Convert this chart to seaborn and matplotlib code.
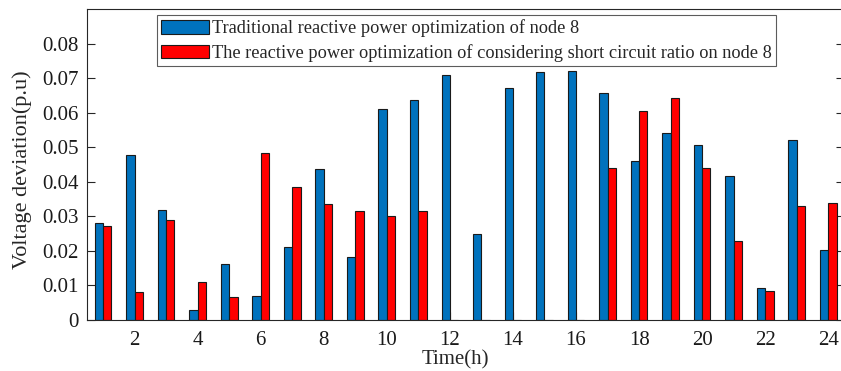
import matplotlib
matplotlib.use("Agg")
import matplotlib.pyplot as plt
import numpy as np
import pandas as pd
import seaborn as sns

sns.set_style('ticks')
plt.rcParams['font.family'] = ['Liberation Serif', 'DejaVu Serif']

hours = list(range(1, 25))
traditional = [0.0281, 0.0478, 0.0320, 0.0028, 0.0163, 0.0070, 0.0211, 0.0437,
               0.0183, 0.0610, 0.0636, 0.0709, 0.0249, 0.0672, 0.0718, 0.0721,
               0.0657, 0.0460, 0.0541, 0.0506, 0.0417, 0.0093, 0.0520, 0.0204]
scr_based = [0.0272, 0.0082, 0.0290, 0.0109, 0.0067, 0.0483, 0.0386, 0.0335,
             0.0317, 0.0301, 0.0315, 0.0, 0.0, 0.0, 0.0, 0.0,
             0.0440, 0.0604, 0.0643, 0.0440, 0.0229, 0.0083, 0.0330, 0.0338]
labels = ['Traditional reactive power optimization of node 8',
          'The reactive power optimization of considering short circuit ratio on node 8']
yticks = [0, 0.01, 0.02, 0.03, 0.04, 0.05, 0.06, 0.07, 0.08]

df = pd.DataFrame({
    'hour': hours * 2,
    'dev': traditional + scr_based,
    'method': [labels[0]] * 24 + [labels[1]] * 24,
})

fig = plt.figure(figsize=(8.41, 3.71), dpi=100)
ax = fig.add_axes([0.1038, 0.1375, 0.8998, 0.8375])

sns.barplot(data=df, x='hour', y='dev', hue='method', native_scale=True,
            palette=['#0072BD', '#FF0000'], width=0.53, edgecolor='#1a1a1a',
            linewidth=0.8, saturation=1, errorbar=None, ax=ax)

ax.set_xlim(0.5, 24.5)
ax.set_ylim(0, 0.09)
ax.set_xticks(range(2, 25, 2))
ax.set_yticks(yticks)
ax.set_yticklabels(['0' if v == 0 else f'{v:.2f}' for v in yticks])
ax.tick_params(direction='in', length=5.5, width=0.8, colors='#262626',
               labelsize=15, labelcolor='#1a1a1a', right=True, pad=6)
ax.tick_params(axis='x', pad=8)
for s in ax.spines.values():
    s.set_color('#262626')
    s.set_linewidth(0.8)
    s.set_visible(True)

ax.set_xlabel('Time(h)', fontsize=15, labelpad=0)
ax.xaxis.set_label_coords(0.487, -0.098)
ax.set_ylabel('Voltage deviation(p.u)', fontsize=16, labelpad=6)
ax.yaxis.set_label_coords(-0.073, 0.483)

leg = ax.legend(loc='upper left', bbox_to_anchor=(0.092, 0.982), borderaxespad=0,
                fontsize=13.2, frameon=True, fancybox=False, edgecolor='#333333',
                handlelength=2.6, handleheight=0.75, handletextpad=0.15,
                borderpad=0.25, labelspacing=0.35, title=None)
leg.get_frame().set_linewidth(0.8)

plt.savefig('out.png', dpi=100)
